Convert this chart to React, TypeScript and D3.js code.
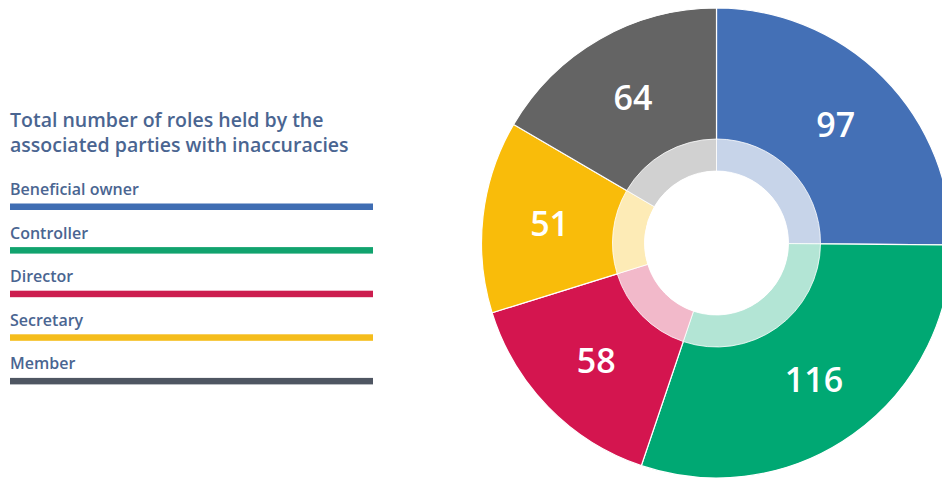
import React from "react";
import * as d3 from "d3";

const categories = ["Beneficial owner", "Controller", "Director", "Secretary", "Member"];
const values = [97, 116, 58, 51, 64];
const sliceColors = ["#4470b6", "#00a873", "#d4154f", "#f9bc0a", "#646464"];
const legendColors = ["#3f6db3", "#11a36e", "#cc1e4f", "#f5bd1c", "#4f5662"];
const titleLines = ["Total number of roles held by the", "associated parties with inaccuracies"];

const W = 942;
const H = 479;
const cx = 716.5;
const cy = 243;
const R = 235;
const Rring = 104;
const Rhole = 72;
const Rlabel = 168;
const textColor = "#4a6591";
const font = "'Open Sans', 'Noto Sans', sans-serif";

export default function App() {
  const data = categories.map((c, i) => ({ c, v: values[i], i }));
  const pie = d3.pie<any>().sort(null).value((d: any) => d.v).startAngle(0).endAngle(2 * Math.PI);
  const arcs = pie(data);
  const outerArc = d3.arc<any>().innerRadius(Rhole).outerRadius(R);
  const ringArc = d3.arc<any>().innerRadius(Rhole).outerRadius(Rring);
  const labelArc = d3.arc<any>().innerRadius(Rlabel).outerRadius(Rlabel);
  const tint = (c: string) => d3.interpolateRgb(c, "#ffffff")(0.7);

  const legendY = d3.scaleBand<string>().domain(categories).range([195, 195 + 43.6 * 5]);

  return (
    <svg width={W} height={H} style={{ position: "absolute", left: 0, top: 0, background: "#fff" }}>
      <g fontFamily={font}>
        {titleLines.map((t, k) => (
          <text key={t} x={10} y={127 + k * 25} fill={textColor} fontSize={19.5} fontWeight={600}>
            {t}
          </text>
        ))}
        {categories.map((c, i) => {
          const y = legendY(c)!;
          return (
            <g key={c}>
              <text x={10} y={y} fill={textColor} fontSize={16} fontWeight={600}>
                {c}
              </text>
              <rect x={10} y={y + 8.5} width={363} height={6.5} fill={legendColors[i]} />
            </g>
          );
        })}
      </g>
      <g transform={`translate(${cx},${cy})`}>
        {arcs.map((a, i) => (
          <path key={"o" + i} d={outerArc(a)!} fill={sliceColors[i]} stroke="#ffffff" strokeWidth={1.2} />
        ))}
        {arcs.map((a, i) => (
          <path key={"r" + i} d={ringArc(a)!} fill={tint(sliceColors[i])} stroke="#ffffff" strokeWidth={0.8} />
        ))}
        <circle r={Rhole} fill="#ffffff" />
        {arcs.map((a, i) => {
          const [x, y] = labelArc.centroid(a);
          return (
            <text
              key={"l" + i}
              x={x}
              y={y}
              dy="0.36em"
              textAnchor="middle"
              fill="#ffffff"
              fontFamily={font}
              fontSize={34}
              fontWeight={600}
            >
              {values[i]}
            </text>
          );
        })}
      </g>
    </svg>
  );
}
